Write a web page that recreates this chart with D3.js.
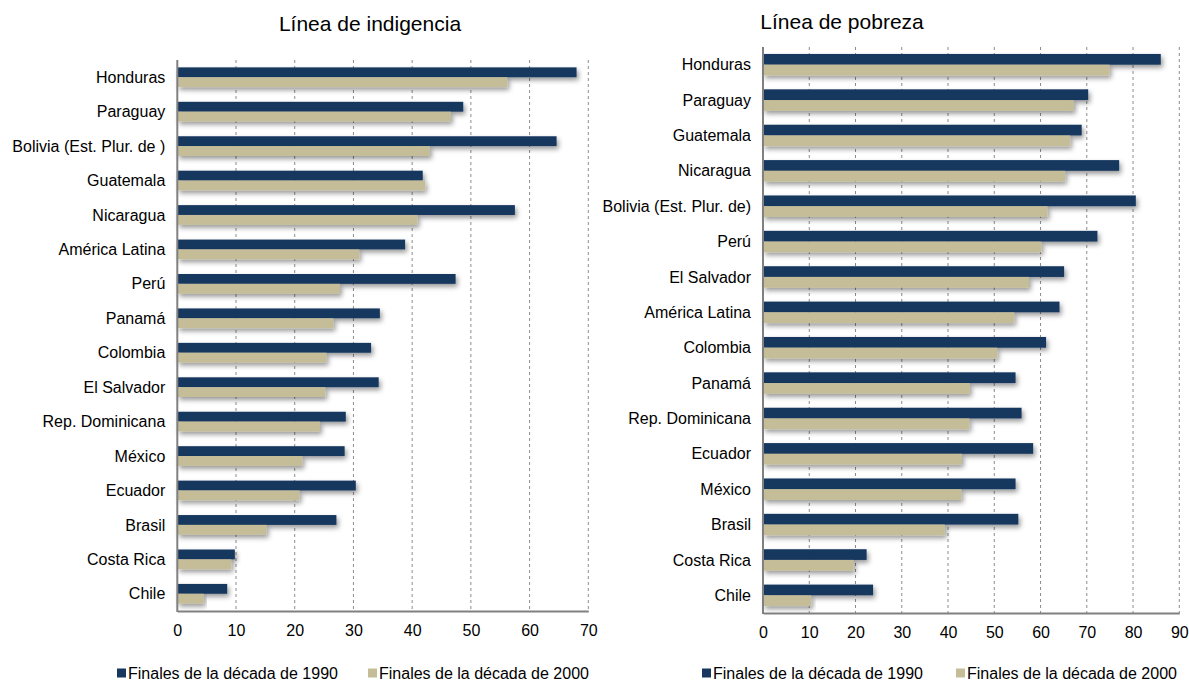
<!DOCTYPE html>
<html>
<head>
<meta charset="utf-8">
<script src="https://cdn.jsdelivr.net/npm/d3@7"></script>
<style>
  body { margin: 0; background: #fff; }
  svg { display: block; font-family: "Liberation Sans", Arial, sans-serif; }
</style>
</head>
<body>
<svg id="chart" width="1189" height="681"></svg>
<script>
"use strict";

// Línea de indigencia
const indCategories = [
	"Honduras", "Paraguay", "Bolivia (Est. Plur. de )", "Guatemala", "Nicaragua",
	"América Latina", "Perú", "Panamá", "Colombia", "El Salvador",
	"Rep. Dominicana", "México", "Ecuador", "Brasil", "Costa Rica", "Chile",
];
const ind1990 = [68.0, 48.7, 64.6, 41.8, 57.5, 38.8, 47.4, 34.5, 33.0, 34.3, 28.7, 28.5, 30.4, 27.1, 9.8, 8.5];
const ind2000 = [56.2, 46.6, 43.0, 42.2, 40.9, 31.0, 27.7, 26.6, 25.4, 25.2, 24.3, 21.3, 20.8, 15.2, 9.2, 4.5];
const indTicks = [0, 10, 20, 30, 40, 50, 60, 70];

// Línea de pobreza
const pobCategories = [
	"Honduras", "Paraguay", "Guatemala", "Nicaragua", "Bolivia (Est. Plur. de)",
	"Perú", "El Salvador", "América Latina", "Colombia", "Panamá",
	"Rep. Dominicana", "Ecuador", "México", "Brasil", "Costa Rica", "Chile",
];
const pob1990 = [86.0, 70.3, 68.9, 77.0, 80.6, 72.3, 65.1, 64.1, 61.2, 54.6, 55.9, 58.4, 54.6, 55.2, 22.4, 23.8];
const pob2000 = [74.9, 67.2, 66.4, 65.3, 61.5, 60.2, 57.5, 54.3, 50.6, 44.7, 44.6, 43.0, 42.9, 39.3, 19.6, 10.4];
const pobTicks = [0, 10, 20, 30, 40, 50, 60, 70, 80, 90];

const seriesNames = ["Finales de la década de 1990", "Finales de la década de 2000"];
const seriesColors = ["#17375e", "#c4bd97"];

const svg = d3.select("#chart");

// soft shadow under the bars
const defs = svg.append("defs");
defs.append("filter")
	.attr("id", "shadow")
	.attr("x", "-5%").attr("y", "-40%")
	.attr("width", "115%").attr("height", "240%")
	.append("feDropShadow")
	.attr("dx", 2).attr("dy", 3)
	.attr("stdDeviation", 2.5)
	.attr("flood-color", "#000")
	.attr("flood-opacity", 0.4);

function drawPanel(cfg) {
	const g = svg.append("g");

	const x = d3.scaleLinear().domain([0, cfg.max]).range([cfg.left, cfg.right]);
	const y = d3.scaleBand().domain(cfg.categories).range([cfg.top, cfg.bottom]);
	const inner = d3.scaleBand().domain([0, 1])
		.range([0, y.bandwidth()])
		.paddingOuter(cfg.outerPad);

	// title
	g.append("text")
		.attr("x", cfg.titleX).attr("y", cfg.titleY)
		.attr("text-anchor", "middle")
		.style("font-size", "21px")
		.style("fill", "#000")
		.text(cfg.title);

	// dashed grid
	g.append("g")
		.selectAll("line")
		.data(cfg.ticks.filter((d) => d > 0))
		.join("line")
		.attr("x1", (d) => x(d)).attr("x2", (d) => x(d))
		.attr("y1", cfg.top).attr("y2", cfg.bottom)
		.attr("stroke", "#8c8c8c")
		.attr("stroke-width", 1)
		.attr("stroke-dasharray", "3,3");

	// bars
	const rows = cfg.categories.map((c, i) => ({ cat: c, vals: [cfg.s1[i], cfg.s2[i]] }));
	const row = g.append("g").selectAll("g")
		.data(rows)
		.join("g")
		.attr("transform", (d) => `translate(0,${y(d.cat)})`);

	row.selectAll("rect")
		.data((d) => d.vals.map((v, k) => ({ v, k })))
		.join("rect")
		.attr("x", x(0))
		.attr("y", (d) => inner(d.k))
		.attr("width", (d) => x(d.v) - x(0))
		.attr("height", inner.bandwidth())
		.attr("fill", (d) => seriesColors[d.k])
		.attr("filter", "url(#shadow)");

	// category labels
	g.append("g")
		.selectAll("text")
		.data(cfg.categories)
		.join("text")
		.attr("x", cfg.left - 12)
		.attr("y", (d) => y(d) + y.bandwidth() / 2)
		.attr("dy", "0.35em")
		.attr("text-anchor", "end")
		.style("font-size", "16px")
		.text((d) => d);

	// axes lines
	g.append("line")
		.attr("x1", x(0)).attr("x2", x(0))
		.attr("y1", cfg.top).attr("y2", cfg.bottom + 1)
		.attr("stroke", "#808080").attr("stroke-width", 2);

	const axis = d3.axisBottom(x)
		.tickValues(cfg.ticks)
		.tickSize(0)
		.tickPadding(14)
		.tickFormat(d3.format("d"));
	const ax = g.append("g")
		.attr("transform", `translate(0,${cfg.bottom})`)
		.call(axis);
	ax.select(".domain").attr("stroke", "#808080").attr("stroke-width", 2);
	ax.selectAll("text")
		.style("font-size", "16px")
		.style("font-family", "'Liberation Sans', Arial, sans-serif")
		.attr("fill", "#000");

	// legend
	const leg = g.append("g")
		.selectAll("g")
		.data(seriesNames)
		.join("g")
		.attr("transform", (d, i) => `translate(${cfg.legendX[i]},${cfg.legendY})`);
	leg.append("rect")
		.attr("x", 0).attr("y", -4.5)
		.attr("width", 9).attr("height", 9)
		.attr("fill", (d, i) => seriesColors[i]);
	leg.append("text")
		.attr("x", 11).attr("y", 0)
		.attr("dy", "0.35em")
		.style("font-size", "16px")
		.text((d) => d);
}

drawPanel({
	title: "Línea de indigencia",
	titleX: 370, titleY: 31,
	categories: indCategories, s1: ind1990, s2: ind2000,
	ticks: indTicks, max: 70,
	left: 177.3, right: 588.3, top: 60, bottom: 611,
	outerPad: 0.75,
	legendX: [117, 368], legendY: 673,
});

drawPanel({
	title: "Línea de pobreza",
	titleX: 842, titleY: 29,
	categories: pobCategories, s1: pob1990, s2: pob2000,
	ticks: pobTicks, max: 90,
	left: 763, right: 1179.3, top: 47, bottom: 613,
	outerPad: 0.65,
	legendX: [702, 956], legendY: 673,
});
</script>
</body>
</html>
